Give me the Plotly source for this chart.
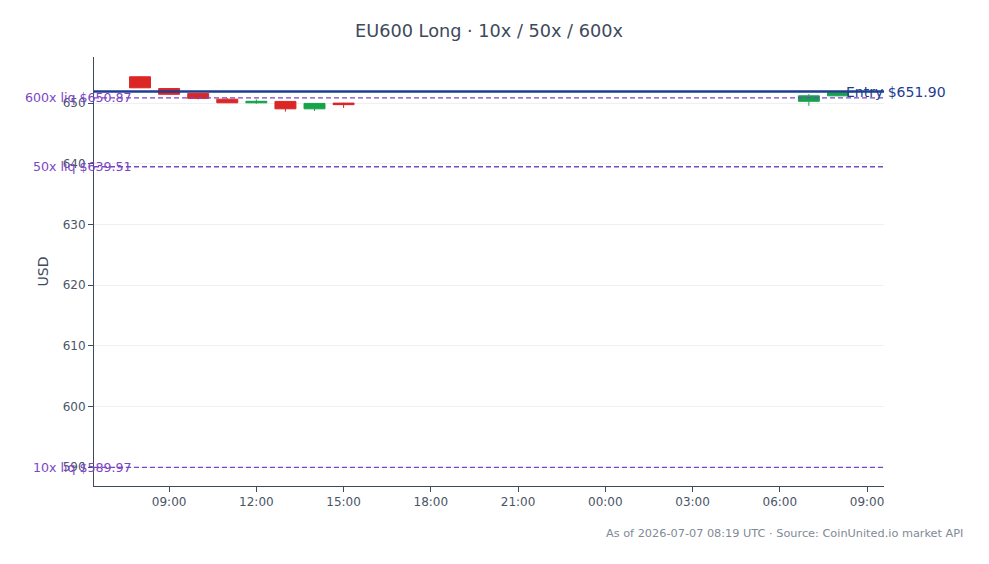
import plotly.graph_objects as go

times = ["2026-07-06 08:00", "2026-07-06 09:00", "2026-07-06 10:00", "2026-07-06 11:00",
         "2026-07-06 12:00", "2026-07-06 13:00", "2026-07-06 14:00", "2026-07-06 15:00",
         "2026-07-07 07:00", "2026-07-07 08:00"]
opens  = [654.34, 652.40, 651.60, 650.65, 650.05, 650.28, 649.06, 650.00, 650.30, 651.20]
highs  = [654.40, 652.45, 651.62, 650.82, 650.60, 650.30, 649.97, 650.05, 651.50, 651.75]
lows   = [652.50, 651.40, 650.60, 650.03, 649.90, 648.60, 648.70, 649.20, 649.55, 651.15]
closes = [652.52, 651.45, 650.78, 650.05, 650.30, 649.06, 649.95, 649.75, 651.20, 651.70]

entry_price = 651.90
liq_labels = ["600x liq", "50x liq", "10x liq"]
liq_prices = [650.87, 639.51, 589.97]

title = "EU600 Long · 10x / 50x / 600x"
footer = "As of 2026-07-07 08:19 UTC · Source: CoinUnited.io market API"

TXT = "#3d4a5c"
PURPLE = "#7b45c7"
BLUE = "#1f3d8f"

fig = go.Figure()
fig.add_trace(go.Candlestick(
    x=times, open=opens, high=highs, low=lows, close=closes,
    increasing=dict(line=dict(color="#16a34a", width=1), fillcolor="#16a34a"),
    decreasing=dict(line=dict(color="#dc2626", width=1), fillcolor="#dc2626"),
    showlegend=False,
))

for lab, p in zip(liq_labels, liq_prices):
    fig.add_hline(y=p, line=dict(color=PURPLE, width=1.4, dash="5px,3px"))
    fig.add_annotation(x=0, xref="paper", y=p, yref="y", text=f"{lab} ${p:.2f}",
                       showarrow=False, xanchor="right", yanchor="middle", xshift=40,
                       font=dict(color=PURPLE, size=12.6, family="DejaVu Sans"))

fig.add_hline(y=entry_price, line=dict(color=BLUE, width=2.5))
fig.add_annotation(x=0.952, xref="paper", y=entry_price, yref="y",
                   text=f"Entry ${entry_price:.2f}", showarrow=False,
                   xanchor="left", yanchor="middle", xshift=-2,
                   font=dict(color=BLUE, size=14, family="DejaVu Sans"))

fig.add_annotation(x=1.1025, xref="paper", y=-0.092, yref="paper", text=footer,
                   showarrow=False, xanchor="right", yanchor="top",
                   font=dict(color="#7f8a96", size=11.3, family="DejaVu Sans"))

fig.update_layout(
    width=989, height=564,
    margin=dict(l=94, r=105, t=57, b=78),
    paper_bgcolor="white", plot_bgcolor="white",
    boxgap=0.28, boxgroupgap=0,
    font=dict(family="DejaVu Sans", color=TXT, size=12),
    title=dict(text=title, x=0.5, xref="paper", xanchor="center", y=0.945, yanchor="middle",
               font=dict(size=17.7, color=TXT)),
    xaxis=dict(
        range=["2026-07-06 06:25", "2026-07-07 09:35"],
        rangeslider=dict(visible=False),
        showgrid=False, showline=True, linecolor=TXT, linewidth=1,
        ticks="outside", tickcolor=TXT, ticklen=5,
        dtick=3 * 3600 * 1000, tick0="2026-07-06 00:00", tickformat="%H:%M",
        tickfont=dict(size=12, color="#4a5566"), zeroline=False,
    ),
    yaxis=dict(
        range=[586.9, 657.6],
        title=dict(text="USD", font=dict(size=14, color=TXT), standoff=10),
        showgrid=True, gridcolor="#eef0f3", showline=True, linecolor=TXT, linewidth=1,
        ticks="outside", tickcolor=TXT, ticklen=5, dtick=10,
        tickfont=dict(size=12, color="#4a5566"), zeroline=False,
    ),
)

fig.write_html("out.html")
